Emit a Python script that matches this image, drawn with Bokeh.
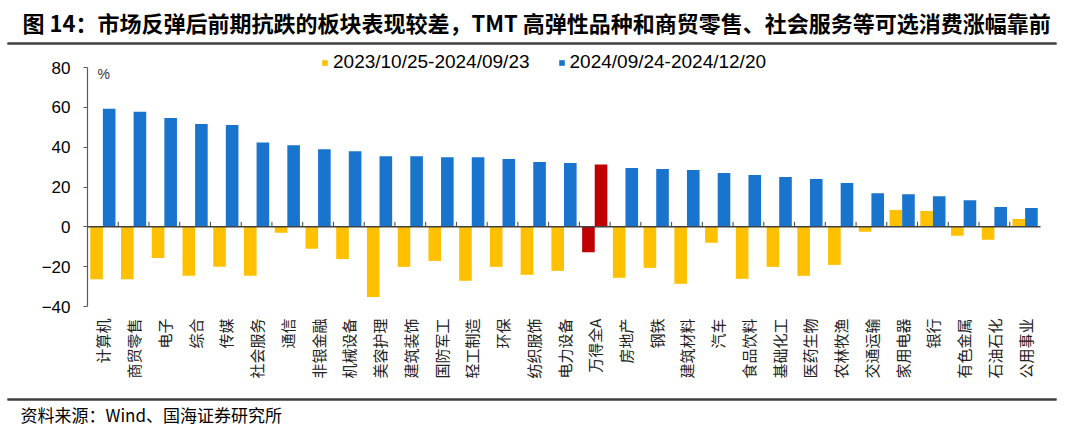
import math
from bokeh.plotting import figure
from bokeh.models import (ColumnDataSource, Range1d, Legend, LegendItem,
                          Label, FixedTicker, LinearAxis, PrintfTickFormatter)
from bokeh.transform import dodge
from bokeh.embed import file_html
from bokeh.resources import INLINE

# ---------------- data ----------------
categories = ["计算机", "商贸零售", "电子", "综合", "传媒", "社会服务", "通信", "非银金融",
              "机械设备", "美容护理", "建筑装饰", "国防军工", "轻工制造", "环保", "纺织服饰",
              "电力设备", "万得全A", "房地产", "钢铁", "建筑材料", "汽车", "食品饮料",
              "基础化工", "医药生物", "农林牧渔", "交通运输", "家用电器", "银行", "有色金属",
              "石油石化", "公用事业"]
# 2023/10/25-2024/09/23 (%)
period1 = [-26.3, -26.3, -15.6, -24.6, -20.1, -24.6, -3.0, -11.0,
           -16.2, -35.2, -20.1, -17.1, -27.1, -20.1, -24.1,
           -22.1, -12.8, -25.6, -20.6, -28.6, -8.0, -26.1,
           -20.1, -24.6, -19.1, -2.5, 8.4, 7.9, -4.5,
           -6.5, 3.9]
# 2024/09/24-2024/12/20 (%)
period2 = [59.3, 57.8, 54.6, 51.6, 51.1, 42.4, 41.0, 38.9,
           38.0, 35.5, 35.5, 35.0, 35.0, 34.0, 32.5,
           32.0, 31.3, 29.5, 29.0, 28.5, 27.0, 26.0,
           25.0, 24.0, 22.0, 16.9, 16.4, 15.4, 13.4,
           9.9, 9.4]
series_names = ["2023/10/25-2024/09/23", "2024/09/24-2024/12/20"]
highlight = "万得全A"
y_ticks = [-40, -20, 0, 20, 40, 60, 80]
y_unit = "%"
title_text = "图 14：市场反弹后前期抗跌的板块表现较差，TMT 高弹性品种和商贸零售、社会服务等可选消费涨幅靠前"
source_text = "资料来源：Wind、国海证券研究所"

# ---------------- style / layout (page pixels) ----------------
YELLOW = "#FFC000"
BLUE = "#1874CD"
RED = "#C00000"
DARK = "#404040"
W, H = 1072, 431
AX_LEFT, AX_RIGHT = 87, 1040          # category band extent
Y_TOP_PX, Y_BOT_PX = 67, 306           # pixel rows of the top / bottom y ticks

n = len(categories)
px_cat = (AX_RIGHT - AX_LEFT) / n
px_unit = (Y_BOT_PX - Y_TOP_PX) / (y_ticks[-1] - y_ticks[0])


def X(px):
    return -0.5 + (px - AX_LEFT) / px_cat


def Y(py):
    return y_ticks[-1] - (py - Y_TOP_PX) / px_unit


idx = list(range(n))
c1 = [RED if c == highlight else YELLOW for c in categories]
c2 = [RED if c == highlight else BLUE for c in categories]
src = ColumnDataSource(dict(x=idx, cat=categories, v1=period1, v2=period2, c1=c1, c2=c2))

p = figure(x_range=Range1d(X(0), X(W)), y_range=Range1d(Y(H), Y(0)),
           width=W, height=H, output_backend="svg", toolbar_location=None,
           min_border=0, min_border_left=0, min_border_right=0,
           min_border_top=0, min_border_bottom=0)
p.outline_line_color = None
p.xgrid.visible = False
p.ygrid.visible = False

bw = 0.41
r1 = p.vbar(x=dodge("x", -bw / 2), top="v1", bottom=0, width=bw,
            fill_color="c1", line_color=None, source=src)
r2 = p.vbar(x=dodge("x", bw / 2), top="v2", bottom=0, width=bw,
            fill_color="c2", line_color=None, source=src)

# zero line, category separators, y axis line
p.segment(x0=[-0.5], y0=[0], x1=[n - 0.5], y1=[0], line_color=DARK, line_width=1.5)
bounds = [i + 0.5 for i in range(n - 1)]
p.segment(x0=bounds, y0=[0] * len(bounds), x1=bounds, y1=[2.5] * len(bounds),
          line_color=DARK, line_width=1)
p.segment(x0=[-0.5], y0=[y_ticks[0]], x1=[-0.5], y1=[y_ticks[-1]],
          line_color="#595959", line_width=1.2)

# y axis (fixed at the left edge of the category band)
ya = p.yaxis[0]
ya.fixed_location = -0.5
ya.ticker = FixedTicker(ticks=y_ticks)
ya.major_label_text_font = "Liberation Sans"
ya.major_label_text_font_size = "17px"
ya.major_label_text_color = "#000000"
ya.axis_line_color = None
ya.major_tick_line_color = "#595959"
ya.major_tick_out = 4
ya.major_tick_in = 0
ya.minor_tick_line_color = None
ya.major_label_standoff = 13

# x axis (category labels under the bottom of the value range)
xa = p.xaxis[0]
xa.fixed_location = y_ticks[0]
xa.ticker = FixedTicker(ticks=idx)
xa.major_label_overrides = {i: c for i, c in zip(idx, categories)}
xa.axis_line_color = None
xa.major_tick_line_color = None
xa.minor_tick_line_color = None
xa.major_tick_out = 0
xa.major_tick_in = 0
xa.major_label_orientation = math.pi / 2
xa.major_label_text_font = "Noto Sans CJK SC"
xa.major_label_text_font_size = "15px"
xa.major_label_text_color = "#222222"
xa.major_label_standoff = 12

# unit label
p.add_layout(Label(x=X(97), y=y_ticks[-1], y_offset=2, text=y_unit, text_baseline="top",
                   text_font="Liberation Sans", text_font_size="14px", text_color="#333333"))

# legend
legend = Legend(items=[LegendItem(label=series_names[0], renderers=[r1], index=0),
                       LegendItem(label=series_names[1], renderers=[r2], index=0)],
                orientation="horizontal", location=(321, H - 73),
                glyph_width=7, glyph_height=7, label_standoff=5, spacing=28,
                padding=0, margin=0, border_line_color=None, background_fill_alpha=0,
                label_text_font="Liberation Sans", label_text_font_size="19px",
                label_text_color="#000000")
p.add_layout(legend, "center")

# title, rules and source
p.add_layout(Label(x=X(22), y=Y(21), text=title_text, text_font="Noto Sans CJK SC",
                   text_font_style="bold", text_font_size="22px",
                   text_color="#000000", text_baseline="middle"))
rule_left, rule_right = X(7), X(1056)
p.segment(x0=[rule_left, rule_left], y0=[Y(43), Y(399)],
          x1=[rule_right, rule_right], y1=[Y(43), Y(399)],
          line_color=DARK, line_width=2)
# the rules again as bare axis lines (guides are drawn outside the value box)
for rule_y in (Y(43), Y(399)):
    rule = LinearAxis(fixed_location=rule_y, bounds=(rule_left, rule_right),
                      ticker=FixedTicker(ticks=[(rule_left + rule_right) / 2]),
                      formatter=PrintfTickFormatter(format=""),
                      axis_line_color=DARK, axis_line_width=2,
                      major_tick_line_color=None, minor_tick_line_color=None,
                      major_tick_out=0, major_tick_in=0,
                      major_label_text_color=None)
    p.add_layout(rule, "below")
p.add_layout(Label(x=X(20), y=Y(414), text=source_text, text_font="Noto Sans CJK SC",
                   text_font_size="17px", text_color="#000000", text_baseline="middle"))

open("out.html", "w").write(file_html(p, INLINE))
